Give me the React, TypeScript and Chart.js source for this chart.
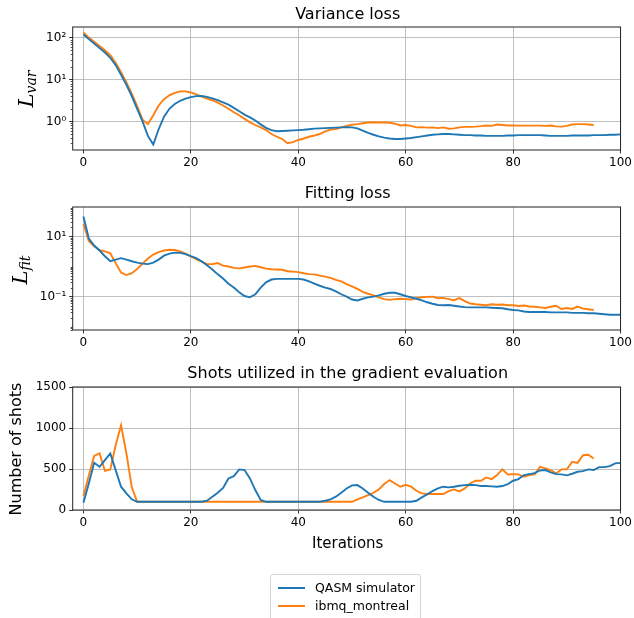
import React, { useEffect, useRef } from "react";
import { Chart, registerables } from "chart.js";

Chart.register(...registerables);

// ---------------- data ----------------
const xTicks = [0, 20, 40, 60, 80, 100];

const qasmVarLoss = [
  118, 92, 72, 56, 44, 33, 22, 13, 7.5, 4.0, 2.0, 1.0, 0.45, 0.28, 0.65, 1.3, 2.0, 2.6, 3.1, 3.5,
  3.8, 4.0, 4.05, 3.85, 3.55, 3.2, 2.85, 2.5, 2.1, 1.75, 1.45, 1.25, 1.05, 0.85, 0.7, 0.62, 0.58, 0.59, 0.6, 0.61,
  0.62, 0.63, 0.65, 0.67, 0.68, 0.69, 0.7, 0.71, 0.72, 0.73, 0.72, 0.68, 0.6, 0.53, 0.48, 0.44, 0.41, 0.39, 0.38, 0.38,
  0.39, 0.4, 0.42, 0.44, 0.46, 0.48, 0.49, 0.5, 0.5, 0.49, 0.48, 0.47, 0.47, 0.46, 0.46, 0.45, 0.45, 0.45, 0.45, 0.46,
  0.46, 0.47, 0.47, 0.47, 0.47, 0.47, 0.46, 0.45, 0.45, 0.45, 0.45, 0.46, 0.46, 0.46, 0.46, 0.47, 0.47, 0.47, 0.48, 0.48,
  0.49,
];
const montrealVarLoss = [
  132, 100, 80, 63, 50, 38, 25, 15, 8.5, 4.6, 2.3, 1.1, 0.86, 1.4, 2.4, 3.4, 4.2, 4.8, 5.2, 5.2,
  4.9, 4.4, 3.9, 3.5, 3.2, 2.8, 2.4, 2.0, 1.65, 1.4, 1.15, 0.95, 0.82, 0.72, 0.62, 0.5, 0.43, 0.38, 0.3, 0.32,
  0.36, 0.39, 0.43, 0.46, 0.5, 0.58, 0.64, 0.66, 0.72, 0.78, 0.83, 0.86, 0.9, 0.94, 0.95, 0.94, 0.94, 0.93, 0.88, 0.8,
  0.82, 0.78, 0.72, 0.73, 0.71, 0.72, 0.69, 0.72, 0.67, 0.68, 0.72, 0.74, 0.74, 0.75, 0.77, 0.8, 0.78, 0.84, 0.82, 0.8,
  0.8, 0.79, 0.79, 0.79, 0.79, 0.79, 0.78, 0.8, 0.76, 0.75, 0.78, 0.84, 0.86, 0.86, 0.84, 0.82,
];

const qasmFitLoss = [
  46, 8.5, 5.0, 3.4, 2.2, 1.5, 1.7, 1.9, 1.7, 1.5, 1.35, 1.25, 1.2, 1.35, 1.7, 2.3, 2.7, 2.9, 2.85, 2.6,
  2.2, 1.9, 1.5, 1.1, 0.8, 0.55, 0.4, 0.27, 0.2, 0.14, 0.105, 0.095, 0.12, 0.2, 0.3, 0.37, 0.39, 0.39, 0.39, 0.39,
  0.39, 0.37, 0.32, 0.27, 0.23, 0.2, 0.18, 0.15, 0.12, 0.1, 0.08, 0.075, 0.085, 0.095, 0.1, 0.11, 0.125, 0.135, 0.135, 0.12,
  0.105, 0.095, 0.085, 0.075, 0.065, 0.058, 0.053, 0.052, 0.053, 0.05, 0.047, 0.045, 0.044, 0.044, 0.044, 0.044, 0.043, 0.042, 0.041, 0.038,
  0.036, 0.035, 0.032, 0.031, 0.031, 0.031, 0.031, 0.03, 0.03, 0.03, 0.03, 0.029, 0.029, 0.029, 0.028, 0.028, 0.027, 0.026, 0.025, 0.025,
  0.025,
];
const montrealFitLoss = [
  26, 7.1, 4.7, 3.5, 3.2, 2.75, 1.3, 0.63, 0.52, 0.6, 0.83, 1.25, 1.85, 2.5, 3.0, 3.4, 3.6, 3.55, 3.2, 2.7,
  2.15, 1.75, 1.45, 1.2, 1.2, 1.3, 1.07, 1.0, 0.9, 0.87, 0.93, 1.0, 1.05, 0.95, 0.85, 0.81, 0.8, 0.78, 0.7, 0.68,
  0.65, 0.6, 0.56, 0.55, 0.5, 0.46, 0.42, 0.36, 0.32, 0.26, 0.22, 0.18, 0.145, 0.125, 0.11, 0.095, 0.083, 0.078, 0.083, 0.085,
  0.083, 0.08, 0.089, 0.095, 0.098, 0.1, 0.089, 0.091, 0.083, 0.076, 0.089, 0.071, 0.059, 0.056, 0.054, 0.052, 0.056, 0.054, 0.055, 0.052,
  0.052, 0.049, 0.051, 0.047, 0.046, 0.044, 0.042, 0.046, 0.05, 0.039, 0.042, 0.039, 0.047, 0.04, 0.038, 0.036,
];

const qasmShots = [
  90, 324, 575, 527, 608, 690, 486, 284, 203, 130, 100, 100, 100, 100, 100, 100, 100, 100, 100, 100,
  100, 100, 100, 113, 162, 210, 270, 385, 413, 495, 487, 385, 243, 122, 100, 100, 100, 100, 100, 100,
  100, 100, 100, 100, 100, 113, 130, 162, 210, 263, 300, 304, 263, 210, 162, 122, 100, 100, 100, 100,
  100, 100, 113, 154, 190, 231, 263, 284, 276, 284, 296, 304, 308, 304, 292, 292, 288, 284, 292, 316,
  357, 377, 426, 438, 450, 482, 487, 458, 438, 434, 422, 442, 466, 474, 495, 487, 523, 523, 535, 568,
  575,
];
const montrealShots = [
  170, 420, 660, 690, 478, 495, 790, 1034, 690, 276, 100, 100, 100, 100, 100, 100, 100, 100, 100, 100,
  100, 100, 100, 100, 100, 100, 100, 100, 100, 100, 100, 100, 100, 100, 100, 100, 100, 100, 100, 100,
  100, 100, 100, 100, 100, 100, 100, 100, 100, 100, 100, 130, 154, 182, 210, 251, 316, 365, 324, 284,
  308, 284, 235, 203, 195, 195, 195, 195, 231, 251, 227, 263, 324, 357, 357, 397, 377, 426, 495, 434,
  438, 434, 405, 426, 434, 527, 507, 487, 446, 495, 495, 588, 575, 669, 673, 628,
];

const seriesNames = ["QASM simulator", "ibmq_montreal"];
const titles = ["Variance loss", "Fitting loss", "Shots utilized in the gradient evaluation"];
const varTicks = [1, 10, 100];
const fitTicks = [0.1, 10];
const shotTicks = [0, 500, 1000, 1500];

const BLUE = "#1f77b4";
const ORANGE = "#ff7f0e";
const FONT = "'DejaVu Sans', sans-serif";

const SUP: Record<string, string> = { "-": "⁻", "0": "⁰", "1": "¹", "2": "²", "3": "³" };
function logLabel(v: number) {
  const e = Math.round(Math.log10(v));
  return "10" + String(e).split("").map((c) => SUP[c] || c).join("");
}

type Panel = {
  top: number;
  bottom: number;
  log: boolean;
  yMin: number;
  yMax: number;
  yTicks: number[];
  blue: number[];
  orange: number[];
};

const panels: Panel[] = [
  { top: 26.7, bottom: 150, log: true, yMin: 0.2075, yMax: 179, yTicks: varTicks, blue: qasmVarLoss, orange: montrealVarLoss },
  { top: 207.3, bottom: 330, log: true, yMin: 0.0078, yMax: 95, yTicks: fitTicks, blue: qasmFitLoss, orange: montrealFitLoss },
  { top: 386.7, bottom: 510, log: false, yMin: 0, yMax: 1500, yTicks: shotTicks, blue: qasmShots, orange: montrealShots },
];

const PAD_TOP = 14;
const X_AXIS_H = 26;
const Y_AXIS_W = 72.7;
const PAD_RIGHT = 11.3;
const W = 634;

function canvasHeight(p: Panel) {
  return Math.round(p.bottom - p.top) + PAD_TOP + X_AXIS_H;
}

function build(canvas: HTMLCanvasElement, p: Panel) {
  const framePlugin = {
    id: "frameAndMinor",
    afterDraw(chart: any) {
      const { ctx, chartArea } = chart;
      const ys = chart.scales.y;
      ctx.save();
      if (p.log) {
        ctx.strokeStyle = "#000";
        ctx.lineWidth = 0.7;
        const lo = Math.floor(Math.log10(p.yMin));
        const hi = Math.ceil(Math.log10(p.yMax));
        for (let d = lo; d <= hi; d++) {
          for (let k = 1; k <= 9; k++) {
            const v = k * Math.pow(10, d);
            if (v < p.yMin || v > p.yMax) continue;
            if (p.yTicks.some((t) => Math.abs(t - v) / v < 1e-6)) continue;
            const y = Math.round(ys.getPixelForValue(v)) + 0.5;
            ctx.beginPath();
            ctx.moveTo(chartArea.left - 2, y);
            ctx.lineTo(chartArea.left, y);
            ctx.stroke();
          }
        }
      }
      ctx.strokeStyle = "#222";
      ctx.lineWidth = 1;
      ctx.strokeRect(chartArea.left, chartArea.top, chartArea.right - chartArea.left, chartArea.bottom - chartArea.top);
      ctx.restore();
    },
  };

  const toPts = (arr: number[]) => arr.map((v, i) => ({ x: i, y: v }));

  return new Chart(canvas, {
    type: "line",
    data: {
      datasets: [
        { label: seriesNames[0], data: toPts(p.blue), borderColor: BLUE, backgroundColor: BLUE, borderWidth: 1.9, pointRadius: 0, tension: 0 },
        { label: seriesNames[1], data: toPts(p.orange), borderColor: ORANGE, backgroundColor: ORANGE, borderWidth: 1.9, pointRadius: 0, tension: 0 },
      ],
    },
    options: {
      animation: false,
      responsive: false,
      maintainAspectRatio: false,
      layout: { padding: { top: PAD_TOP, right: PAD_RIGHT, left: 0, bottom: 0 } },
      plugins: { legend: { display: false }, tooltip: { enabled: false }, title: { display: false } },
      scales: {
        x: {
          type: "linear",
          min: -2,
          max: 100,
          afterBuildTicks: (s: any) => {
            s.ticks = xTicks.map((v) => ({ value: v }));
          },
          afterFit: (s: any) => {
            s.height = X_AXIS_H;
          },
          grid: { color: "#b0b0b0", lineWidth: 0.8, tickColor: "#000", tickLength: 3.5, tickWidth: 0.8 },
          border: { display: false },
          ticks: { color: "#000", font: { family: FONT, size: 12 }, padding: 2, maxRotation: 0, callback: (v: any) => String(v) },
        },
        y: {
          type: p.log ? "logarithmic" : "linear",
          min: p.yMin,
          max: p.yMax,
          afterBuildTicks: (s: any) => {
            s.ticks = p.yTicks.map((v) => ({ value: v }));
          },
          afterFit: (s: any) => {
            s.width = Y_AXIS_W;
          },
          grid: { color: "#b0b0b0", lineWidth: 0.8, tickColor: "#000", tickLength: 3.5, tickWidth: 0.8 },
          border: { display: false },
          ticks: {
            color: "#000",
            font: { family: FONT, size: 12 },
            padding: 3,
            callback: (v: any) => (p.log ? logLabel(Number(v)) : String(v)),
          },
        },
      },
    },
    plugins: [framePlugin],
  } as any);
}

const textBase: React.CSSProperties = {
  position: "absolute",
  whiteSpace: "nowrap",
  lineHeight: 1,
  color: "#000",
  fontFamily: FONT,
};

export default function App() {
  const r0 = useRef<HTMLCanvasElement>(null);
  const r1 = useRef<HTMLCanvasElement>(null);
  const r2 = useRef<HTMLCanvasElement>(null);

  useEffect(() => {
    const refs = [r0, r1, r2];
    const charts = panels.map((p, i) => build(refs[i].current as HTMLCanvasElement, p));
    return () => charts.forEach((c) => c.destroy());
  }, []);

  const refs = [r0, r1, r2];
  const titleY = [13.5, 193, 373];
  const cx = (Y_AXIS_W + (W - PAD_RIGHT)) / 2;

  return (
    <div style={{ position: "fixed", left: 0, top: 0, width: W, height: 618, overflow: "hidden", background: "#fff" }}>
      {panels.map((p, i) => (
        <canvas
          key={i}
          ref={refs[i]}
          width={W}
          height={canvasHeight(p)}
          style={{ position: "absolute", left: 0, top: p.top - PAD_TOP, width: W, height: canvasHeight(p) }}
        />
      ))}
      {titles.map((t, i) => (
        <div key={t} style={{ ...textBase, left: cx, top: titleY[i], fontSize: 16, transform: "translate(-50%,-50%)" }}>
          {t}
        </div>
      ))}
      <div
        style={{
          ...textBase,
          left: 27,
          top: 88.5,
          fontSize: 21,
          fontFamily: "'DejaVu Serif', serif",
          fontStyle: "italic",
          transform: "translate(-50%,-50%) rotate(-90deg)",
        }}
      >
        L<sub style={{ fontSize: 14, verticalAlign: "-0.25em" }}>var</sub>
      </div>
      <div
        style={{
          ...textBase,
          left: 21,
          top: 270,
          fontSize: 21,
          fontFamily: "'DejaVu Serif', serif",
          fontStyle: "italic",
          transform: "translate(-50%,-50%) rotate(-90deg)",
        }}
      >
        L<sub style={{ fontSize: 14, verticalAlign: "-0.25em" }}>fit</sub>
      </div>
      <div style={{ ...textBase, left: 16, top: 448.5, fontSize: 16, transform: "translate(-50%,-50%) rotate(-90deg)" }}>
        Number of shots
      </div>
      <div style={{ ...textBase, left: cx, top: 543, fontSize: 15, transform: "translate(-50%,-50%)" }}>Iterations</div>
      <div
        style={{
          position: "absolute",
          left: 270,
          top: 574,
          width: 151,
          height: 54,
          border: "1px solid #d5d5d5",
          borderRadius: 3,
          boxSizing: "border-box",
          background: "#fff",
        }}
      />
      {seriesNames.map((n, i) => (
        <React.Fragment key={n}>
          <div style={{ position: "absolute", left: 278, top: 587.5 + i * 18.5 - 1, width: 27, height: 2, background: i === 0 ? BLUE : ORANGE }} />
          <div style={{ ...textBase, left: 315, top: 587.5 + i * 18.5, fontSize: 12.5, transform: "translateY(-50%)" }}>{n}</div>
        </React.Fragment>
      ))}
    </div>
  );
}
